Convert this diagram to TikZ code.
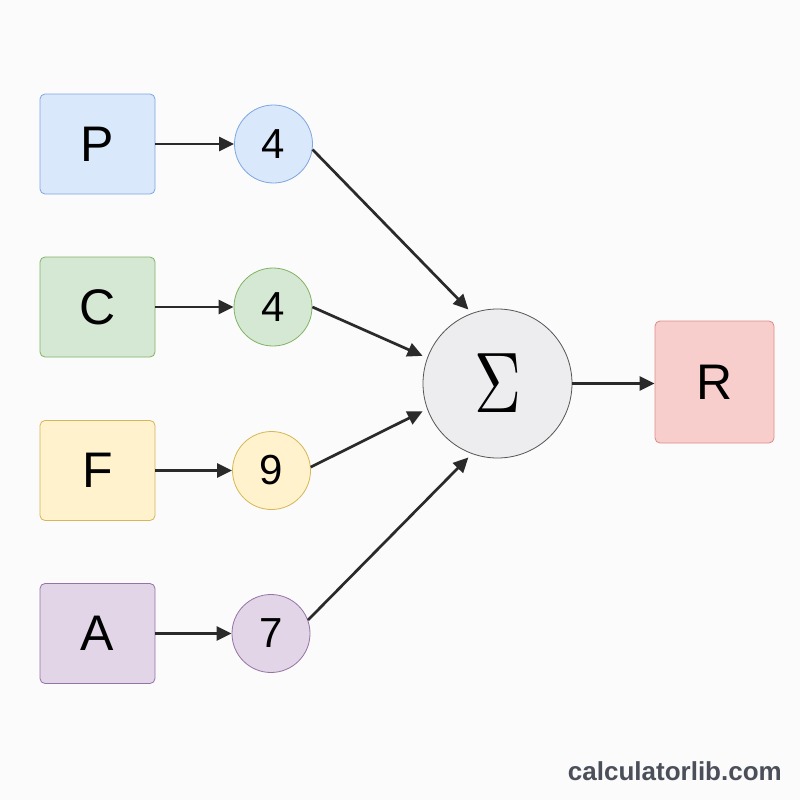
\documentclass[tikz,border=0pt]{standalone}
\usepackage{fontspec}
\setmainfont{Liberation Sans}
\usetikzlibrary{arrows.meta}
\definecolor{bluef}{HTML}{DAE8FC}\definecolor{blued}{HTML}{7EA6E0}
\definecolor{greenf}{HTML}{D5E8D4}\definecolor{greend}{HTML}{82B366}
\definecolor{yellowf}{HTML}{FFF2CC}\definecolor{yellowd}{HTML}{D6B656}
\definecolor{purplef}{HTML}{E1D5E7}\definecolor{purpled}{HTML}{9673A6}
\definecolor{redf}{HTML}{F8CECC}\definecolor{redd}{HTML}{E08A8A}
\definecolor{sigf}{HTML}{EDEDF0}\definecolor{sigd}{HTML}{555555}
\definecolor{arrowc}{HTML}{2A2A2A}
\definecolor{wmc}{HTML}{4A4F5A}
\definecolor{bgc}{HTML}{FBFBFB}
\begin{document}
\begin{tikzpicture}[x=1pt,y=-1pt,
  box/.style={rounded corners=5pt, minimum width=115pt, minimum height=100pt, line width=0.8pt, inner sep=0pt, font=\fontsize{50}{50}\selectfont},
  wt/.style={circle, minimum size=78pt, inner sep=0pt, line width=0.8pt, font=\fontsize{42}{42}\selectfont},
  arr/.style={-{Triangle[length=15pt,width=14pt]}, line width=2.7pt, draw=arrowc}]
\fill[bgc] (0,0) rectangle (800,800);
\useasboundingbox (0,0) rectangle (800,800);
\node[box, fill=bluef, draw=blued] (p) at (97.5,144) {P};
\node[wt, fill=bluef, draw=blued] (pw) at (273.5,144) {4};
\node[box, fill=greenf, draw=greend] (c) at (97.5,307) {C};
\node[wt, fill=greenf, draw=greend] (cw) at (273,307) {4};
\node[box, fill=yellowf, draw=yellowd] (f) at (97.5,470.5) {F};
\node[wt, fill=yellowf, draw=yellowd] (fw) at (271.5,470.5) {9};
\node[box, fill=purplef, draw=purpled] (a) at (97.5,633.5) {A};
\node[wt, fill=purplef, draw=purpled] (aw) at (271,633.5) {7};
\node[circle, minimum size=149pt, inner sep=0pt, fill=sigf, draw=sigd, line width=0.8pt] (sig) at (497.5,383.5) {\scalebox{6.5}[8.6]{$\Sigma$}};
\node[box, minimum width=119pt, minimum height=122pt, fill=redf, draw=redd] (r) at (714.5,382) {R};
\draw[arr] (p.east) -- (pw.west);
\draw[arr] (c.east) -- (cw.west);
\draw[arr] (f.east) -- (fw.west);
\draw[arr] (a.east) -- (aw.west);
\draw[arr, shorten >=5pt] (pw.-8) -- (sig.110);
\draw[arr, shorten >=5pt] (cw.east) -- (sig.160);
\draw[arr, shorten >=5pt] (fw.5) -- (sig.200);
\draw[arr, shorten >=5pt] (aw.20) -- (sig.250);
\draw[arr] (sig.east) -- (sig.east -| r.west);
\node[anchor=base east, inner sep=0pt, text=wmc, font=\bfseries\fontsize{26}{26}\selectfont] (wm) at (782,780) {calculatorlib.com};
\end{tikzpicture}
\end{document}
